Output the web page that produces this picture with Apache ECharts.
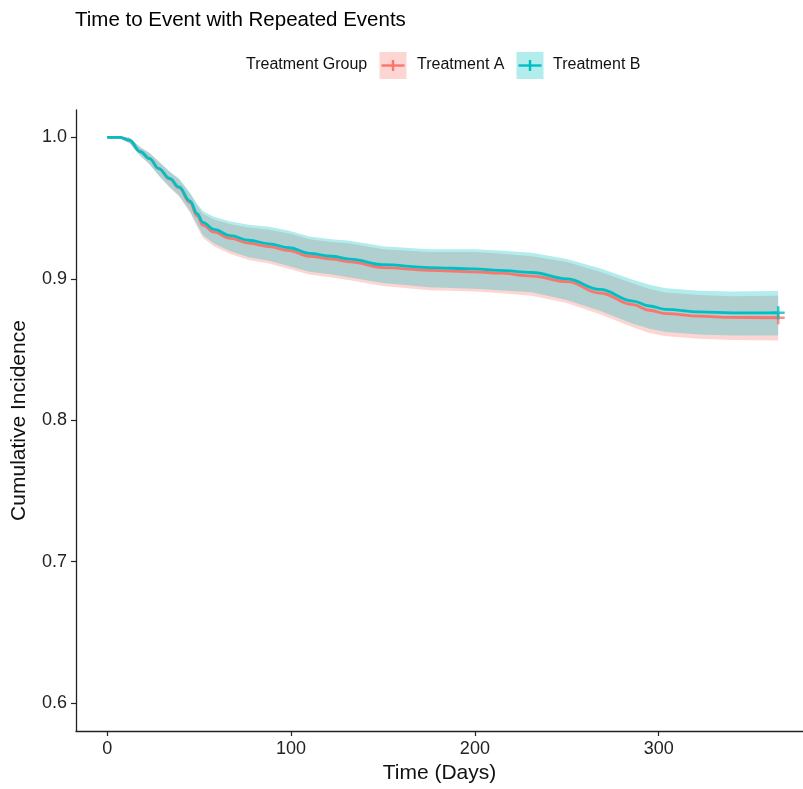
<!DOCTYPE html>
<html>
<head>
<meta charset="utf-8">
<script src="https://cdn.jsdelivr.net/npm/echarts@6/dist/echarts.min.js"></script>
<style>
  html, body { margin: 0; padding: 0; background: #fff; }
  #main { width: 803px; height: 789px; }
</style>
</head>
<body>
<div id="main"></div>
<script>
// time points (days)
var days = [0, 7, 12, 18, 23, 28, 34, 39, 45, 49, 52, 58, 67, 77, 88, 99, 110, 122, 132, 150, 175, 200, 213, 231, 250, 268, 286, 295, 304, 322, 340, 365];

// Treatment A estimate and confidence band
var estA = [1.000, 1.000, 0.998, 0.990, 0.985, 0.978, 0.9705, 0.9645, 0.954, 0.9445, 0.938, 0.933, 0.9286, 0.9253, 0.9228, 0.920, 0.916, 0.914, 0.912, 0.908, 0.906, 0.905, 0.904, 0.902, 0.898, 0.890, 0.8818, 0.8778, 0.8754, 0.8736, 0.8727, 0.8725];
var upA = [1.000, 1.0005, 1.000, 0.993, 0.989, 0.983, 0.9755, 0.9705, 0.960, 0.9515, 0.946, 0.942, 0.9386, 0.9363, 0.9348, 0.932, 0.928, 0.926, 0.925, 0.921, 0.919, 0.919, 0.918, 0.916, 0.912, 0.905, 0.8968, 0.8928, 0.8904, 0.8886, 0.8877, 0.888];
var loA = [1.000, 0.999, 0.996, 0.987, 0.981, 0.973, 0.9645, 0.9585, 0.947, 0.9365, 0.929, 0.923, 0.9176, 0.9133, 0.9108, 0.907, 0.903, 0.901, 0.899, 0.895, 0.892, 0.891, 0.890, 0.888, 0.883, 0.875, 0.8658, 0.8618, 0.8594, 0.8576, 0.8567, 0.8565];

// Treatment B estimate and confidence band
var estB = [1.000, 1.000, 0.998, 0.990, 0.985, 0.978, 0.971, 0.965, 0.955, 0.946, 0.940, 0.935, 0.9306, 0.9273, 0.9248, 0.922, 0.918, 0.916, 0.914, 0.910, 0.908, 0.907, 0.906, 0.9045, 0.900, 0.8925, 0.8843, 0.8808, 0.8784, 0.8766, 0.876, 0.876];
var upB = [1.000, 1.0005, 1.000, 0.993, 0.989, 0.983, 0.976, 0.971, 0.961, 0.953, 0.948, 0.944, 0.9406, 0.9383, 0.9368, 0.934, 0.930, 0.928, 0.927, 0.923, 0.921, 0.921, 0.920, 0.9185, 0.914, 0.9075, 0.8993, 0.8958, 0.8934, 0.8916, 0.891, 0.8915];
var loB = [1.000, 0.999, 0.996, 0.987, 0.981, 0.973, 0.965, 0.959, 0.948, 0.938, 0.931, 0.925, 0.9196, 0.9153, 0.9128, 0.909, 0.905, 0.903, 0.901, 0.897, 0.894, 0.893, 0.892, 0.8905, 0.885, 0.8775, 0.8683, 0.8648, 0.8624, 0.8606, 0.860, 0.860];

var xTicks = [0, 100, 200, 300];
var yTicks = [0.6, 0.7, 0.8, 0.9, 1.0];

var colA = '#F8766D';
var colB = '#00BFC4';
var fillA = 'rgba(248,118,109,0.3)';
var fillB = 'rgba(0,191,196,0.3)';
var font = 'Liberation Sans, Arial, sans-serif';

function pairs(xs, ys) {
  return xs.map(function (x, i) { return [x, ys[i]]; });
}

function bandSeries(up, lo, fill) {
  return {
    type: 'custom',
    data: [[days[0], up[0]]],
    silent: true,
    renderItem: function (params, api) {
      var pts = [];
      for (var i = 0; i < days.length; i++) pts.push(api.coord([days[i], up[i]]));
      for (var j = days.length - 1; j >= 0; j--) pts.push(api.coord([days[j], lo[j]]));
      return { type: 'polygon', shape: { points: pts }, style: { fill: fill } };
    }
  };
}

var plusPath = 'path://M4,0h2v10h-2z M0,4h10v2h-10z';

function lineSeries(est, col) {
  return {
    type: 'line',
    data: pairs(days, est),
    showSymbol: false,
    smooth: 0.4,
    smoothMonotone: 'x',
    lineStyle: { color: col, width: 2.8 },
    z: 3
  };
}

function censorSeries(est, col) {
  var n = days.length - 1;
  return {
    type: 'scatter',
    data: [[days[n], est[n]]],
    symbol: plusPath,
    symbolSize: 13,
    itemStyle: { color: col },
    z: 4
  };
}

function legendKey(x, fill, col) {
  return {
    type: 'group',
    left: x, top: 52,
    children: [
      { type: 'rect', shape: { x: 0, y: 0, width: 27, height: 27 }, style: { fill: fill } },
      { type: 'line', shape: { x1: 2, y1: 13.5, x2: 25, y2: 13.5 }, style: { stroke: col, lineWidth: 2.4 } },
      { type: 'line', shape: { x1: 13.5, y1: 8, x2: 13.5, y2: 19 }, style: { stroke: col, lineWidth: 2.4 } }
    ]
  };
}

var myChart = echarts.init(document.getElementById('main'), null, { renderer: 'canvas' });

var option = {
  animation: false,
  backgroundColor: '#fff',
  title: {
    text: 'Time to Event with Repeated Events',
    left: 70, top: 5,
    textStyle: { fontFamily: font, fontSize: 20.5, fontWeight: 'normal', color: '#000' }
  },
  graphic: [
    { type: 'text', left: 246, top: 57, style: { text: 'Treatment Group', font: '16px ' + font, fill: '#111' } },
    legendKey(379, fillA, colA),
    { type: 'text', left: 417, top: 57, style: { text: 'Treatment A', font: '16px ' + font, fill: '#111' } },
    legendKey(516, fillB, colB),
    { type: 'text', left: 553, top: 57, style: { text: 'Treatment B', font: '16px ' + font, fill: '#111' } }
  ],
  grid: { left: 76, right: 0, top: 110, bottom: 56 },
  xAxis: {
    type: 'value',
    min: -17, max: 378.5,
    name: 'Time (Days)',
    nameLocation: 'middle',
    nameGap: 32,
    nameTextStyle: { fontFamily: font, fontSize: 21, color: '#111' },
    axisLine: { show: true, onZero: false, lineStyle: { color: '#222', width: 1.3 } },
    axisTick: { show: true, length: 5, customValues: xTicks, lineStyle: { color: '#222', width: 1.2 } },
    axisLabel: { customValues: xTicks, margin: 9, fontFamily: font, fontSize: 18, color: '#222' },
    splitLine: { show: false }
  },
  yAxis: {
    type: 'value',
    min: 0.5803, max: 1.0194,
    name: 'Cumulative Incidence',
    nameLocation: 'middle',
    nameGap: 46,
    nameTextStyle: { fontFamily: font, fontSize: 21, color: '#111' },
    axisLine: { show: true, onZero: false, lineStyle: { color: '#222', width: 1.3 } },
    axisTick: { show: true, length: 5, customValues: yTicks, lineStyle: { color: '#222', width: 1.2 } },
    axisLabel: {
      customValues: yTicks, margin: 9, fontFamily: font, fontSize: 18, color: '#222',
      formatter: function (v) { return v.toFixed(1); }
    },
    splitLine: { show: false }
  },
  series: [
    bandSeries(upA, loA, fillA),
    bandSeries(upB, loB, fillB),
    lineSeries(estA, colA),
    lineSeries(estB, colB),
    censorSeries(estA, colA),
    censorSeries(estB, colB)
  ]
};

myChart.setOption(option);
</script>
</body>
</html>
